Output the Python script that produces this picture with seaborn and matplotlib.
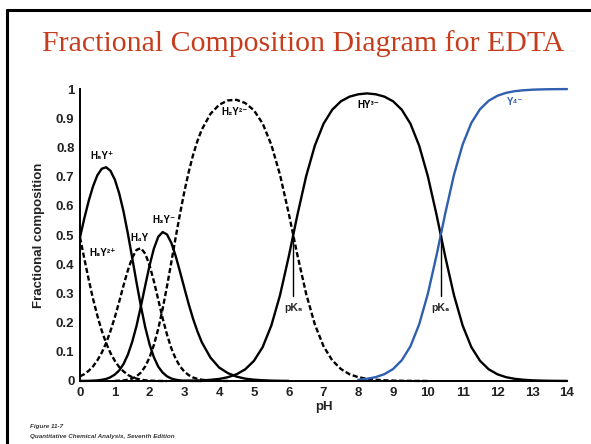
import matplotlib
matplotlib.use('Agg')
import matplotlib.pyplot as plt
import pandas as pd
import seaborn as sns
from matplotlib.lines import Line2D

# pH grid: 0.125 steps up to 3.5, then 0.25 steps
ph = [0, 0.125, 0.25, 0.375, 0.5, 0.625, 0.75, 0.875, 1, 1.125, 1.25, 1.375, 1.5, 1.625,
      1.75, 1.875, 2, 2.125, 2.25, 2.375, 2.5, 2.625, 2.75, 2.875, 3, 3.125, 3.25, 3.375, 3.5,
      3.75, 4, 4.25, 4.5, 4.75, 5, 5.25, 5.5, 5.75, 6, 6.25, 6.5, 6.75, 7, 7.25, 7.5, 7.75,
      8, 8.25, 8.5, 8.75, 9, 9.25, 9.5, 9.75, 10, 10.25, 10.5, 10.75, 11, 11.25, 11.5, 11.75,
      12, 12.25, 12.5, 12.75, 13, 13.25, 13.5, 13.75, 14]

# fractional composition (start pH, values along the grid)
h6y_start = 0
h6y = [0.492, 0.418, 0.347, 0.281, 0.223, 0.172, 0.130, 0.096, 0.069, 0.048, 0.033,
       0.021, 0.013, 0.008, 0.0045, 0.0025, 0.0013, 0.0006, 0.0003, 0.0001, 0.0]
h5y_start = 0
h5y = [0.492, 0.558, 0.617, 0.667, 0.705, 0.727, 0.732, 0.720, 0.690, 0.643, 0.581,
       0.505, 0.422, 0.337, 0.256, 0.184, 0.125, 0.081, 0.049, 0.029, 0.016, 0.0084,
       0.0043, 0.0021, 0.001, 0.0005, 0.0002, 0.0001, 0.0]
h4y_start = 0
h4y = [0.016, 0.0235, 0.035, 0.050, 0.071, 0.097, 0.130, 0.171, 0.218, 0.271, 0.327,
       0.379, 0.422, 0.449, 0.455, 0.436, 0.396, 0.341, 0.278, 0.215, 0.159, 0.112,
       0.076, 0.050, 0.032, 0.020, 0.012, 0.0072, 0.0042, 0.0014, 0.0005, 0.0001]
h3y_start = 0
h3y = [0.0002, 0.0003, 0.0006, 0.0012, 0.002, 0.0041, 0.007, 0.0128, 0.022, 0.036,
       0.058, 0.090, 0.134, 0.189, 0.256, 0.327, 0.396, 0.454, 0.494, 0.510, 0.502,
       0.473, 0.428, 0.374, 0.318, 0.263, 0.213, 0.170, 0.133, 0.080, 0.046, 0.027,
       0.015, 0.008, 0.0045, 0.0025, 0.0013, 0.0007, 0.0004]
h2y_start = 1
h2y = [0.0004, 0.001, 0.002, 0.0043, 0.0086, 0.016, 0.029, 0.050, 0.081, 0.124, 0.179,
       0.247, 0.324, 0.407, 0.492, 0.573, 0.649, 0.716, 0.774, 0.822, 0.861,
       0.915, 0.946, 0.961, 0.963, 0.952, 0.927, 0.882, 0.809, 0.706,
       0.574, 0.431, 0.299, 0.194, 0.119, 0.071, 0.041, 0.023, 0.013, 0.0075,
       0.0043, 0.0024, 0.0013, 0.0007, 0.0004, 0.0002, 0.0001]
hy_start = 3
hy = [0.0005, 0.0007, 0.001, 0.0014, 0.002, 0.004, 0.007, 0.013, 0.023, 0.040, 0.069,
      0.116, 0.190, 0.294, 0.426, 0.569, 0.701, 0.806, 0.881, 0.929, 0.958, 0.974,
      0.982, 0.985, 0.982, 0.974, 0.958, 0.929, 0.881, 0.806, 0.701, 0.569,
      0.426, 0.294, 0.190, 0.116, 0.069, 0.040, 0.023, 0.013, 0.0074, 0.0042,
      0.0023, 0.0013, 0.0007, 0.0004, 0.0002]
y_start = 8
y4 = [0.0042, 0.0075, 0.0133, 0.0234, 0.041, 0.071, 0.119, 0.194, 0.299, 0.431,
      0.574, 0.706, 0.810, 0.884, 0.931, 0.960, 0.977, 0.987, 0.9926, 0.9958,
      0.9977, 0.9987, 0.9993, 0.9996, 0.9998]

species = ['H₆Y²⁺', 'H₅Y⁺', 'H₄Y', 'H₃Y⁻', 'H₂Y²⁻', 'HY³⁻', 'Y⁴⁻']
label_x = [0.65, 0.63, 1.72, 2.4, 4.43, 8.28, 12.5]
label_y = [0.44, 0.77, 0.49, 0.55, 0.92, 0.945, 0.955]

pk_names = ['pK₅', 'pK₆']
pk_values = [6.13, 10.37]

rows = []
for name, start, vals in zip(species, [h6y_start, h5y_start, h4y_start, h3y_start, h2y_start, hy_start, y_start],
                             [h6y, h5y, h4y, h3y, h2y, hy, y4]):
    i0 = ph.index(start)
    for x, v in zip(ph[i0:i0 + len(vals)], vals):
        rows.append({'species': name, 'pH': x, 'fraction': v})
df = pd.DataFrame(rows)

sns.set_style('white')
plt.rcParams['font.family'] = ['Liberation Sans', 'DejaVu Sans']

fig = plt.figure(figsize=(5.91, 4.44), dpi=100)
ax = fig.add_axes([0.1354, 0.1419, 0.824, 0.6576])

styles = {'H₆Y²⁺': ('black', True), 'H₅Y⁺': ('black', False), 'H₄Y': ('black', True),
          'H₃Y⁻': ('black', False), 'H₂Y²⁻': ('black', True), 'HY³⁻': ('black', False),
          'Y⁴⁻': ('#2f5fae', False)}
for name in species:
    col, dashed = styles[name]
    sub = df[df['species'] == name]
    sns.lineplot(data=sub, x='pH', y='fraction', ax=ax, color=col, lw=1.7,
                 estimator=None, sort=False, legend=False, clip_on=False,
                 dashes=False)
    ax.lines[-1].set_solid_joinstyle('round')
    if dashed:
        ax.lines[-1].set_linestyle((0, (2.2, 1.1)))

for name, lx, ly in zip(species, label_x, label_y):
    ax.text(lx, ly, name, ha='center', va='center', fontsize=7, fontweight='bold',
            color=styles[name][0])

for name, pk in zip(pk_names, pk_values):
    ax.plot([pk, pk], [0.5, 0.29], color='black', lw=1.0)
    ax.text(pk, 0.25, name, ha='center', va='center', fontsize=7.5, fontweight='bold')

ax.set_xlim(0, 14)
ax.set_ylim(0, 1)
ax.set_xticks(range(0, 15))
ax.set_yticks([0, 0.1, 0.2, 0.3, 0.4, 0.5, 0.6, 0.7, 0.8, 0.9, 1])
ax.set_yticklabels(['0', '0.1', '0.2', '0.3', '0.4', '0.5', '0.6', '0.7', '0.8', '0.9', '1'])
ax.tick_params(direction='in', length=7, width=1.2, labelsize=9.5, colors='#222222', pad=4)
for lab in ax.get_xticklabels() + ax.get_yticklabels():
    lab.set_fontweight('bold')
ax.set_xlabel('pH', fontsize=9.5, fontweight='bold', color='#222222', labelpad=2)
ax.set_ylabel('Fractional composition', fontsize=9.5, fontweight='bold', color='#222222', labelpad=8)
sns.despine(ax=ax)
for s in ['left', 'bottom']:
    ax.spines[s].set_linewidth(1.4)
    ax.spines[s].set_color('black')

fig.text(0.513, 0.903, 'Fractional Composition Diagram for EDTA', ha='center', va='center',
         fontsize=21.5, color='#c63d1d', family='Liberation Serif')
fig.text(0.05, 0.036, 'Figure 11-7', fontsize=4.5, fontweight='bold', style='italic', color='#333333')
fig.text(0.05, 0.014, 'Quantitative Chemical Analysis, Seventh Edition', fontsize=4.5,
         fontweight='bold', style='italic', color='#333333')

# slide frame: top and left rules
fig.add_artist(Line2D([7 / 591, 1], [1 - 10 / 444, 1 - 10 / 444], color='black', lw=2.2))
fig.add_artist(Line2D([7 / 591, 7 / 591], [0, 1 - 10 / 444], color='black', lw=2.2))

fig.savefig('out.png', dpi=100)
